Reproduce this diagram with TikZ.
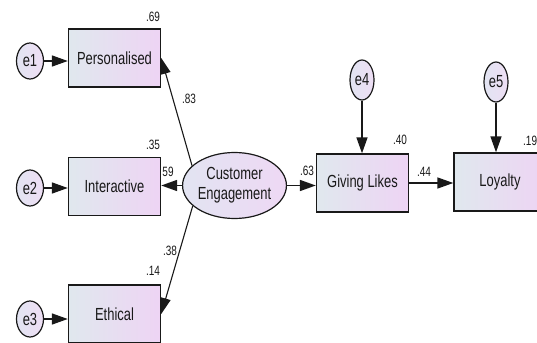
\documentclass[tikz,border=0pt]{standalone}
\usepackage{fontspec}
\setmainfont{Liberation Sans}[FakeStretch=0.74]
\usetikzlibrary{arrows.meta,shapes.geometric}
\definecolor{boxL}{RGB}{224,232,238}
\definecolor{boxR}{RGB}{238,212,244}
\definecolor{ellL}{RGB}{226,228,242}
\definecolor{ellR}{RGB}{238,216,244}
\definecolor{errF}{RGB}{238,222,244}
\definecolor{edge}{RGB}{25,25,25}
\definecolor{txt}{RGB}{25,25,25}
\tikzset{
  obs/.style={draw=edge, line width=1.4pt, left color=boxL, right color=boxR,
    minimum width=92pt, minimum height=58pt, inner sep=0pt, text=txt,
    font=\fontsize{17.5}{20}\selectfont},
  err/.style={ellipse, draw=edge, line width=1.2pt, left color=ellL, right color=errF,
    minimum width=27pt, minimum height=36pt, inner sep=0pt, text=txt,
    font=\fontsize{17.5}{20}\selectfont},
  errv/.style={err, minimum width=24pt, minimum height=40pt},
  lat/.style={ellipse, draw=edge, line width=1.2pt, left color=ellL, right color=ellR,
    minimum width=95pt, minimum height=66pt, inner sep=0pt, text=txt, align=center,
    font=\fontsize{17.5}{20}\selectfont},
  num/.style={text=txt, inner sep=0pt, font=\fontsize{13.5}{15}\selectfont},
  arr/.style={draw=edge, line width=1.6pt, -{Triangle[length=16pt,width=11pt]}},
  path/.style={draw=edge, line width=1.1pt, -{Triangle[length=16pt,width=10pt]}}
}
\begin{document}
\begin{tikzpicture}[x=1pt,y=-1pt]
\useasboundingbox (0,0) rectangle (537,342);
\fill[white] (0,0) rectangle (537,342);
% label drawn under the box
\node[num] (l59) at (168,172) {59};
% observed boxes
\node[obs] (P) at (114.5,58) {Personalised};
\node[obs] (I) at (114.5,186.5) {Interactive};
\node[obs] (E) at (114.5,314) {Ethical};
\node[obs] (G) at (362.5,183) {Giving Likes};
\node[obs] (L) at (500,182) {Loyalty};
% errors
\node[err] (e1) at (30,61) {e1};
\node[err] (e2) at (30,188) {e2};
\node[err] (e3) at (30,319) {e3};
\node[errv] (e4) at (362,80) {e4};
\node[errv] (e5) at (496,82) {e5};
% latent
\node[lat] (CE) at (234.5,185.5) {Customer\\Engagement};
% arrows
\draw[arr] (e1) -- (e1 -| P.west);
\draw[arr] (e2) -- (e2 -| I.west);
\draw[arr] (e3) -- (e3 -| E.west);
\draw[arr] (e4) -- (e4 |- G.north);
\draw[arr] (e5) -- (e5 |- L.north);
\draw[path] (CE.155) -- (P.east);
\draw[arr] (CE.west) -- (CE.west -| I.east);
\draw[path] (CE.206) -- (E.east);
\draw[arr] (CE.east) -- (CE.east -| G.west);
\draw[arr] (G.east) -- (G.east -| L.west);
% numbers
\node[num] (n69) at (153,17) {.69};
\node[num] (n83) at (189,99) {.83};
\node[num] (n35) at (153,145) {.35};
\node[num] (n38) at (170,251) {.38};
\node[num] (n14) at (153,271) {.14};
\node[num] (n63) at (307,171) {.63};
\node[num] (n40) at (400,140) {.40};
\node[num] (n44) at (424,172) {.44};
\node[num,anchor=west] (n19) at (523,141) {.19};
\end{tikzpicture}
\end{document}
